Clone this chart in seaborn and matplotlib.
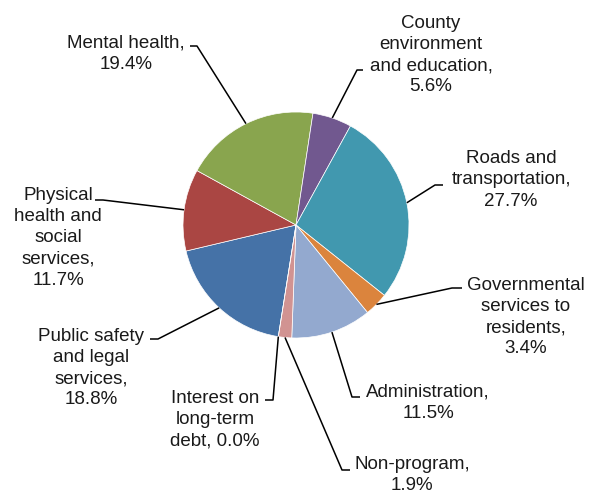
"""Pie chart of county spending by program area, with Excel-style leader labels."""

import numpy as np
import matplotlib
matplotlib.use("Agg")
import matplotlib.pyplot as plt
import seaborn as sns

# data, in the order the slices are drawn (clockwise)
categories = [
    "Public safety\nand legal\nservices,",
    "Physical\nhealth and\nsocial\nservices,",
    "Mental health,",
    "County\nenvironment\nand education,",
    "Roads and\ntransportation,",
    "Governmental\nservices to\nresidents,",
    "Administration,",
    "Non-program,",
    "Interest on\nlong-term\ndebt,",
]
shares = [18.8, 11.7, 19.4, 5.6, 27.7, 3.4, 11.5, 1.9, 0.0]
colors = ["#4572A7", "#AA4643", "#89A54E", "#71588F", "#4198AF",
          "#DB843D", "#93A9CF", "#D19392", "#B9CD96"]

# layout (pixel coordinates, y measured from the top)
W, H = 593, 493
CENTER = (296, 225)
RADIUS = 113
# text block centre, elbow of the leader, end of the horizontal stub
label_layout = [
    ((91, 368), (158, 339), (150, 339)),
    ((58, 238), (103, 200), (95, 200)),
    ((126, 54), (197, 46), (190, 46)),
    ((431, 55), (357, 70), (363, 70)),
    ((511, 180), (435, 185), (443, 185)),
    ((526, 317), (452, 288), (462, 288)),
    ((428, 403), (352, 397), (360, 397)),
    ((412, 475), (342, 470), (350, 470)),
    ((215, 420), (273, 400), (265, 400)),
]


def flip(point):
    return point[0], H - point[1]


def main() -> None:
    sns.set_theme(style="white")
    plt.rcParams["font.family"] = ["Liberation Sans", "DejaVu Sans"]

    fig = plt.figure(figsize=(W / 100, H / 100), dpi=100)
    ax = fig.add_axes([0, 0, 1, 1])
    cx, cy = flip(CENTER)

    wedges, _ = ax.pie(
        shares,
        colors=colors,
        startangle=261,
        counterclock=False,
        center=(cx, cy),
        radius=RADIUS,
        wedgeprops={"edgecolor": "white", "linewidth": 0.5},
    )

    for i, wedge in enumerate(wedges):
        mid = np.deg2rad((wedge.theta1 + wedge.theta2) / 2)
        edge = (cx + RADIUS * np.cos(mid), cy + RADIUS * np.sin(mid))
        (text_pos, elbow, stub) = [flip(p) for p in label_layout[i]]
        sep = " " if shares[i] == 0 else "\n"
        label = f"{categories[i]}{sep}{shares[i]:.1f}%"
        ax.plot([edge[0], elbow[0], stub[0]], [edge[1], elbow[1], stub[1]],
                color="black", linewidth=1.1, solid_capstyle="butt")
        ax.text(text_pos[0], text_pos[1], label, ha="center", va="center",
                multialignment="center", fontsize=13.5, linespacing=1.32,
                color="#1a1a1a")

    ax.set_xlim(0, W)
    ax.set_ylim(0, H)
    ax.set_aspect("equal")
    ax.axis("off")
    fig.savefig("out.png", dpi=100, facecolor="white")
    plt.close(fig)


if __name__ == "__main__":
    main()
